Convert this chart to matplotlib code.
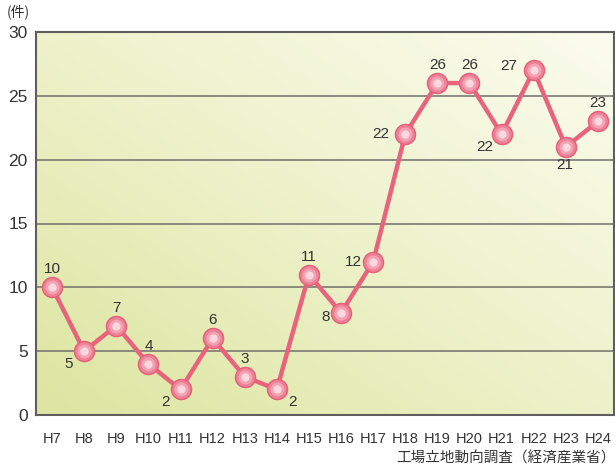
import numpy as np
import matplotlib.pyplot as plt
from matplotlib.colors import LinearSegmentedColormap

plt.rcParams['font.family'] = ['Noto Sans CJK JP', 'DejaVu Sans']

years = ['H7', 'H8', 'H9', 'H10', 'H11', 'H12', 'H13', 'H14', 'H15', 'H16',
         'H17', 'H18', 'H19', 'H20', 'H21', 'H22', 'H23', 'H24']
counts = [10, 5, 7, 4, 2, 6, 3, 2, 11, 8, 12, 22, 26, 26, 22, 27, 21, 23]

# label offsets in points (dx, dy)
offsets = [(0, 13), (-11, -9), (0, 13), (0, 13), (-11, -9), (0, 13), (0, 13), (11, -9),
           (0, 13), (-11, -3), (-14, 0), (-18, 0), (0, 13), (0, 13), (-12, -9), (-18, 3),
           (-1, -13), (0, 13)]

fig = plt.figure(figsize=(6.15, 4.68), dpi=100)
ax = fig.add_axes([36 / 615, 1 - 415 / 468, (614 - 36) / 615, (415 - 32) / 468])

x = np.arange(len(years))
ax.set_xlim(-0.5, 17.5)
ax.set_ylim(0, 30)

# gradient background, yellow-green at bottom-left fading to white at top-right
gx, gy = np.meshgrid(np.linspace(0, 1, 200), np.linspace(0, 1, 200))
g = (gx + gy) / 2
cmap = LinearSegmentedColormap.from_list('bg', ['#dce5a0', '#edf2ca', '#fbfcef'])
ax.imshow(g, cmap=cmap, extent=[-0.5, 17.5, 0, 30], origin='lower',
          aspect='auto', zorder=0)

for yv in [5, 10, 15, 20, 25]:
    ax.axhline(yv, color='#7a7a72', lw=1.2, zorder=1)

for s in ax.spines.values():
    s.set_color('#5e5e5e')
    s.set_linewidth(1.5)

ax.plot(x, counts, color='#e8637c', lw=3.2, zorder=2)
# layered markers to mimic shiny spheres
ax.scatter(x, counts, s=240, color='#e6607a', zorder=3, linewidths=0)
ax.scatter(x, counts, s=180, color='#ee8196', zorder=4, linewidths=0)
ax.scatter(x, counts, s=100, color='#f4a3b2', zorder=5, linewidths=0)
ax.scatter(x, counts, s=35, color='#fbd8de', zorder=6, linewidths=0)

for xi, c, (dx, dy) in zip(x, counts, offsets):
    ax.annotate(str(c), (xi, c), xytext=(dx, dy), textcoords='offset points',
                ha='center', va='center', fontsize=11, color='#333333',
                family='Liberation Sans', zorder=7)

ax.set_xticks(x)
ax.set_xticklabels(years, fontsize=10.5, color='#333333', family='Liberation Sans')
ax.set_yticks([0, 5, 10, 15, 20, 25, 30])
ax.set_yticklabels(['0', '5', '10', '15', '20', '25', '30'], fontsize=12.5,
                   color='#333333', family='Liberation Sans')
ax.tick_params(length=0, pad=12)
ax.tick_params(axis='y', pad=6)

fig.text(7 / 615, 1 - 12 / 468, '(件)', fontsize=10, color='#333333', va='center')
fig.text(616 / 615, 1 - 459 / 468, '工場立地動向調査（経済産業省）', fontsize=10.5,
         color='#333333', ha='right', va='center')

plt.savefig('out.png', dpi=100)
